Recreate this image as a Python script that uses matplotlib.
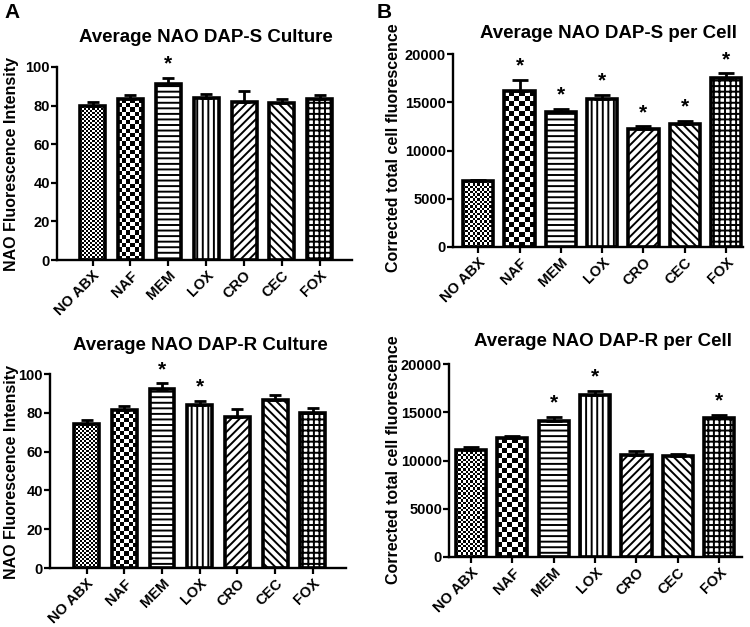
import numpy as np
import matplotlib
matplotlib.use('Agg')
import matplotlib.pyplot as plt

plt.rcParams['font.family'] = ['Liberation Sans', 'DejaVu Sans']
plt.rcParams['font.weight'] = 'bold'
plt.rcParams['hatch.linewidth'] = 1.4

categories = ['NO ABX', 'NAF', 'MEM', 'LOX', 'CRO', 'CEC', 'FOX']

s_culture_mean = [79.7, 83.4, 91.4, 84.1, 81.7, 81.2, 83.4]
s_culture_err = [2.2, 1.9, 3.1, 2.1, 5.9, 2.2, 1.9]
s_culture_sig = [2]

r_culture_mean = [74.1, 81.2, 92.4, 84.1, 77.9, 86.6, 80.0]
r_culture_err = [2.3, 2.4, 2.8, 2.1, 4.2, 2.7, 2.4]
r_culture_sig = [2, 3]

s_cell_mean = [6830, 16150, 14000, 15350, 12200, 12700, 17550]
s_cell_err = [100, 1150, 350, 450, 300, 400, 450]
s_cell_sig = [1, 2, 3, 4, 5, 6]

r_cell_mean = [11100, 12300, 14100, 16800, 10600, 10430, 14370]
r_cell_err = [250, 270, 450, 400, 350, 270, 380]
r_cell_sig = [2, 3, 6]

hatches = [None, None, '---', '|||', '////', '\\\\\\\\', '+++']

W, H = 750, 627
fig = plt.figure(figsize=(W / 100, H / 100), dpi=100)


def checker_fill(ax, bar, cell_px):
    x0, w, h = bar.get_x(), bar.get_width(), bar.get_height()
    p0 = ax.transData.transform((x0, 0))
    p1 = ax.transData.transform((x0 + w, h))
    nx = max(1, int(round((p1[0] - p0[0]) / cell_px)))
    ny = max(1, int(round((p1[1] - p0[1]) / cell_px)))
    arr = np.indices((ny, nx)).sum(axis=0) % 2
    im = ax.imshow(arr, cmap='Greys', vmin=0, vmax=1, extent=(x0, x0 + w, 0, h),
                   aspect='auto', interpolation='nearest', zorder=1.5)
    im.set_clip_path(bar)


def panel(box, xlim, ylim, yticks, means, errs, sig, width, cap, fine, coarse,
          title, title_xy, ylabel, ylabel_xy):
    left, right, top, bottom = box
    ax = fig.add_axes([left / W, 1 - bottom / H, (right - left) / W, (bottom - top) / H])
    x = np.arange(len(categories))
    bars = ax.bar(x, means, width=width, color='white', edgecolor='black',
                  linewidth=2.6, zorder=2)
    for b, hatch in zip(bars, hatches):
        if hatch:
            b.set_hatch(hatch)
    ax.errorbar(x, means, yerr=[np.zeros(len(x)), errs], fmt='none', ecolor='black',
                elinewidth=2, capsize=cap, capthick=2, zorder=3)
    ax.set_xlim(*xlim)
    ax.set_ylim(*ylim)
    bars[0].set_facecolor('none')
    bars[1].set_facecolor('none')
    checker_fill(ax, bars[0], fine)
    checker_fill(ax, bars[1], coarse)
    ax.set_xlim(*xlim)
    ax.set_ylim(*ylim)
    for i in sig:
        ax.annotate('*', (x[i], means[i] + errs[i]), xytext=(0, 10), textcoords='offset points',
                    ha='center', va='center', fontsize=15, fontweight='bold')
    ax.set_yticks(yticks)
    ax.set_yticklabels([str(v) for v in yticks], fontsize=10.5, fontweight='bold')
    ax.set_xticks(x)
    ax.set_xticklabels(categories, rotation=45, ha='right', rotation_mode='anchor',
                       fontsize=10.5, fontweight='bold')
    ax.tick_params(axis='y', width=1.6, length=4, pad=1)
    ax.tick_params(axis='x', width=1.6, length=4, pad=2)
    for s in ['top', 'right']:
        ax.spines[s].set_visible(False)
    for s in ['left', 'bottom']:
        ax.spines[s].set_linewidth(1.7)
    fig.text(title_xy[0] / W, 1 - title_xy[1] / H, title, ha='center', va='center',
             fontsize=13.5, fontweight='bold')
    fig.text(ylabel_xy[0] / W, 1 - ylabel_xy[1] / H, ylabel, ha='center', va='center',
             rotation=90, fontsize=11.5, fontweight='bold')
    return ax


panel((57, 352, 67, 260), (-0.94, 6.85), (0, 100), [0, 20, 40, 60, 80, 100],
      s_culture_mean, s_culture_err, s_culture_sig, 0.66, 4.3, 2.0, 4.2,
      'Average NAO DAP-S Culture', (206, 38), 'NAO Fluorescence Intensity', (12, 164))
panel((453, 743, 54, 247), (-0.61, 6.41), (0, 20000), [0, 5000, 10000, 15000, 20000],
      s_cell_mean, s_cell_err, s_cell_sig, 0.73, 6, 2.4, 5.0,
      'Average NAO DAP-S per Cell', (609, 33), 'Corrected total cell fluorescence', (393, 148))
panel((50, 346, 374, 568), (-0.97, 6.88), (0, 100), [0, 20, 40, 60, 80, 100],
      r_culture_mean, r_culture_err, r_culture_sig, 0.66, 4.3, 2.0, 4.2,
      'Average NAO DAP-R Culture', (200, 345), 'NAO Fluorescence Intensity', (12, 472))
panel((449, 742, 364, 557), (-0.53, 6.55), (0, 20000), [0, 5000, 10000, 15000, 20000],
      r_cell_mean, r_cell_err, r_cell_sig, 0.73, 6, 2.4, 5.0,
      'Average NAO DAP-R per Cell', (603, 342), 'Corrected total cell fluorescence', (393, 460))

fig.text(4 / W, 1 - 12 / H, 'A', ha='left', va='center', fontsize=15, fontweight='bold')
fig.text(377 / W, 1 - 12 / H, 'B', ha='left', va='center', fontsize=15, fontweight='bold')

fig.savefig('out.png', dpi=100, facecolor='white')
